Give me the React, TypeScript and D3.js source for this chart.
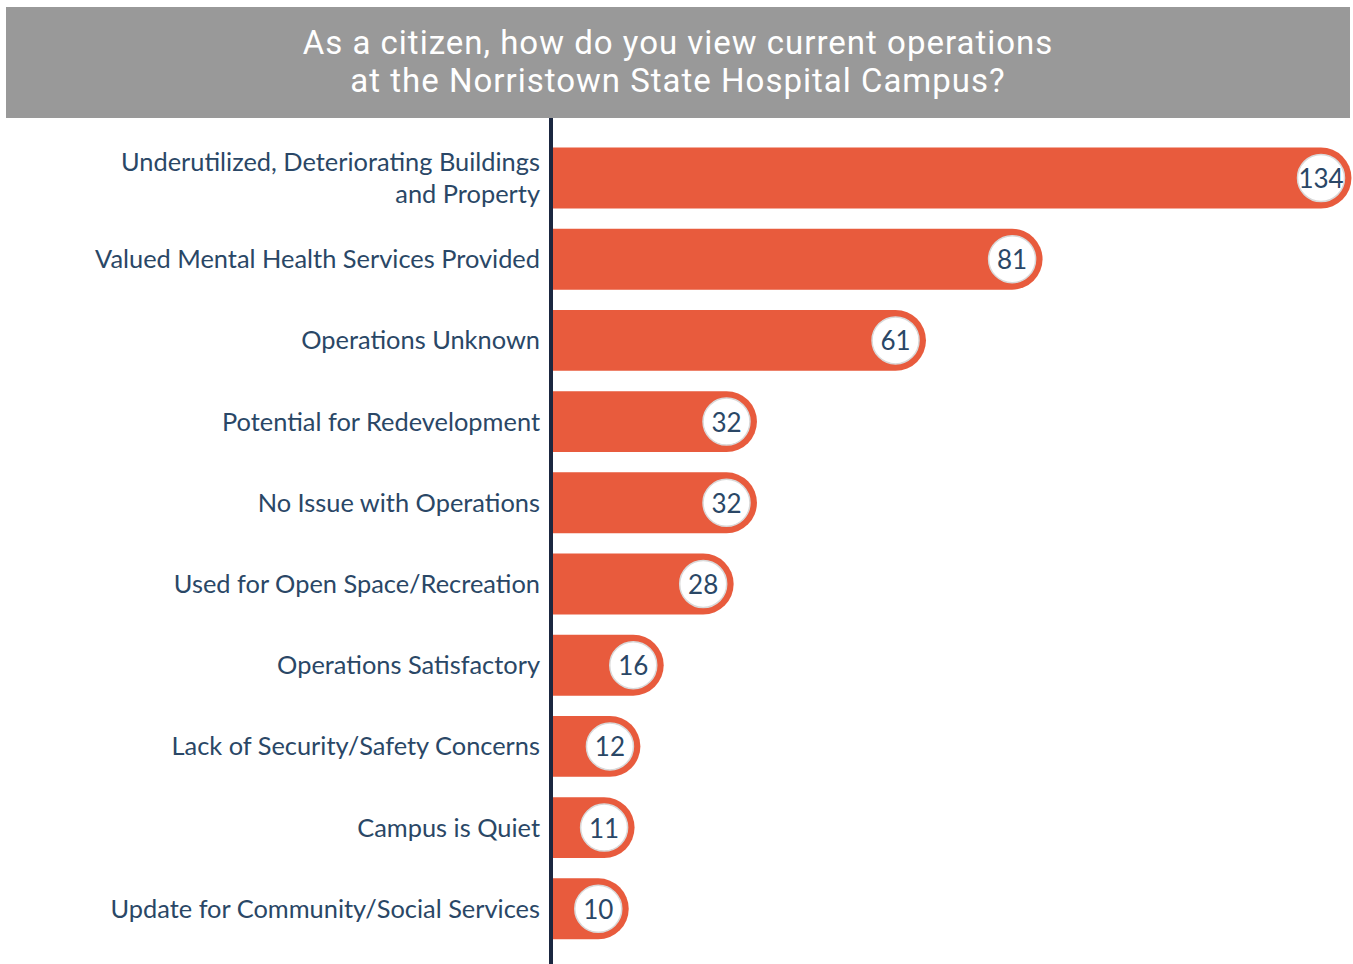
import React, { useEffect, useRef } from 'react';
import * as d3 from 'd3';

const categories = [
  'Underutilized, Deteriorating Buildings|and Property',
  'Valued Mental Health Services Provided',
  'Operations Unknown',
  'Potential for Redevelopment',
  'No Issue with Operations',
  'Used for Open Space/Recreation',
  'Operations Satisfactory',
  'Lack of Security/Safety Concerns',
  'Campus is Quiet',
  'Update for Community/Social Services',
];
const counts = [134, 81, 61, 32, 32, 28, 16, 12, 11, 10];
const titleLines = [
  'As a citizen, how do you view current operations',
  'at the Norristown State Hospital Campus?',
];

const W = 1353;
const H = 964;

export default function App() {
  const svgRef = useRef<SVGSVGElement>(null);

  useEffect(() => {
    if (!svgRef.current) return;
    const svg = d3.select(svgRef.current);
    svg.selectAll('*').remove();

    const axisX = 551;
    const barColor = '#e85b3d';
    const textColor = '#2a4766';

    // header band
    svg.append('rect')
      .attr('x', 6).attr('y', 7)
      .attr('width', 1344).attr('height', 111)
      .attr('fill', '#999999');

    svg.append('g')
      .selectAll('text')
      .data(titleLines)
      .enter().append('text')
      .attr('x', 678)
      .attr('y', (d, i) => 54 + i * 38)
      .attr('text-anchor', 'middle')
      .attr('font-family', 'Roboto, sans-serif')
      .attr('font-size', '33px')
      .attr('letter-spacing', '1px')
      .attr('fill', '#ffffff')
      .text(d => d);

    const y = d3.scaleBand<string>()
      .domain(categories)
      .range([137.4, 949.4])
      .paddingInner(0.25)
      .paddingOuter(0.125);

    // circle centre position for each value
    const x = d3.scaleLinear().domain([0, 134]).range([540, 1321]);

    const rows = svg.append('g')
      .selectAll('g')
      .data(categories.map((c, i) => ({ c, v: counts[i] })))
      .enter().append('g')
      .attr('transform', d => `translate(0,${y(d.c)})`);

    const h = y.bandwidth();
    const r = h / 2;

    rows.append('path')
      .attr('fill', barColor)
      .attr('d', d => {
        const cx = x(d.v);
        return `M${axisX},0 H${cx} A${r},${r} 0 0 1 ${cx},${h} H${axisX} Z`;
      });

    rows.append('circle')
      .attr('cx', d => x(d.v))
      .attr('cy', r)
      .attr('r', 23.5)
      .attr('fill', '#ffffff')
      .attr('stroke', '#d9d9d9')
      .attr('stroke-width', 1.5);

    rows.append('text')
      .attr('x', d => x(d.v))
      .attr('y', r + 10)
      .attr('text-anchor', 'middle')
      .attr('font-family', 'Lato, sans-serif')
      .attr('font-size', '26px')
      .attr('fill', textColor)
      .text(d => d.v);

    // category labels
    const label = rows.append('text')
      .attr('text-anchor', 'end')
      .attr('font-family', 'Lato, sans-serif')
      .attr('font-size', '25.4px')
      .attr('fill', textColor);

    label.each(function (d) {
      const lines = d.c.split('|');
      const t = d3.select(this);
      const start = r + 9 - (lines.length - 1) * 16.5;
      lines.forEach((ln, i) => {
        t.append('tspan')
          .attr('x', 540)
          .attr('y', start + i * 33)
          .text(ln);
      });
    });

    // vertical axis line
    svg.append('line')
      .attr('x1', axisX).attr('x2', axisX)
      .attr('y1', 118).attr('y2', H)
      .attr('stroke', '#1b2740')
      .attr('stroke-width', 4);
  }, []);

  return (
    <svg
      ref={svgRef}
      width={W}
      height={H}
      style={{ position: 'absolute', left: 0, top: 0, background: '#ffffff' }}
    />
  );
}
